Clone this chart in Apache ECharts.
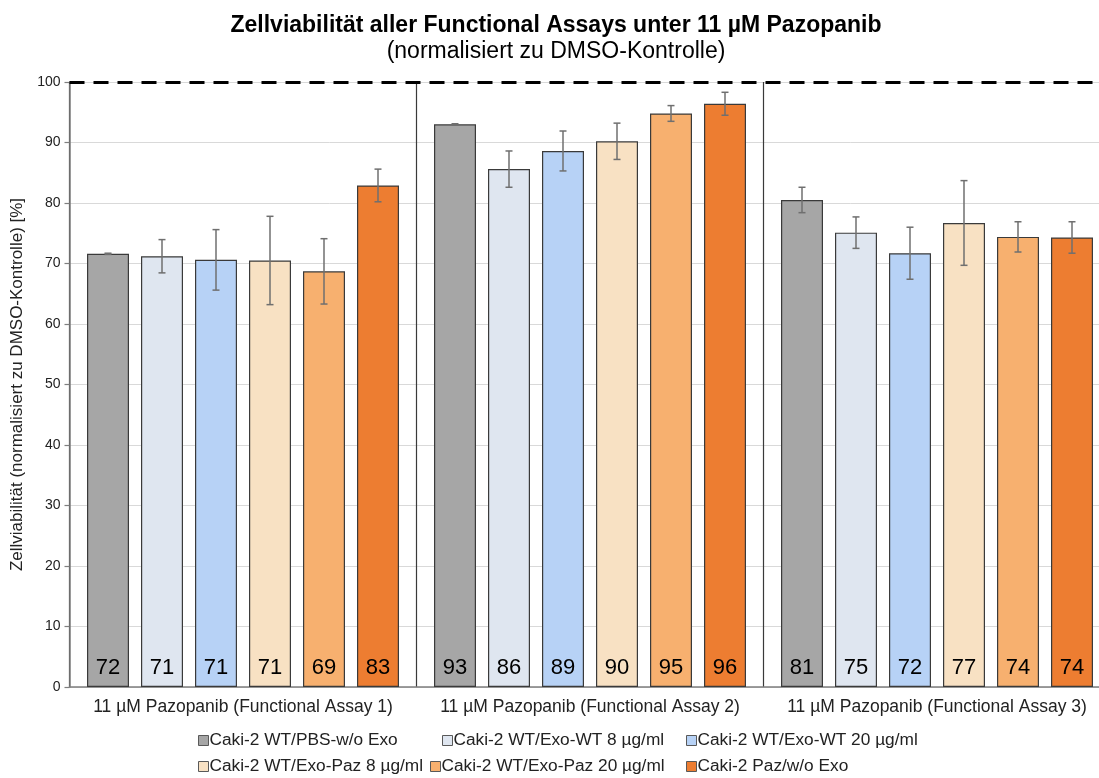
<!DOCTYPE html>
<html>
<head>
<meta charset="utf-8">
<script src="https://cdn.jsdelivr.net/npm/echarts@6/dist/echarts.min.js"></script>
<style>html,body{margin:0;padding:0;background:#fff;overflow:hidden;width:1099px;height:778px}#c{width:1130px;height:778px}</style>
</head>
<body>
<div id="c"></div>
<script>
const categories = [
  '11 µM Pazopanib (Functional Assay 1)',
  '11 µM Pazopanib (Functional Assay 2)',
  '11 µM Pazopanib (Functional Assay 3)'
];
const seriesNames = [
  'Caki-2 WT/PBS-w/o Exo',
  'Caki-2 WT/Exo-WT 8 µg/ml',
  'Caki-2 WT/Exo-WT 20 µg/ml',
  'Caki-2 WT/Exo-Paz 8 µg/ml',
  'Caki-2 WT/Exo-Paz 20 µg/ml',
  'Caki-2 Paz/w/o Exo'
];
const valsPBS      = [71.6, 93.0, 80.5];
const valsWT8      = [71.2, 85.6, 75.1];
const valsWT20     = [70.6, 88.6, 71.7];
const valsPaz8     = [70.5, 90.2, 76.7];
const valsPaz20    = [68.7, 94.8, 74.4];
const valsPazNoExo = [82.9, 96.4, 74.3];

const errPBS      = [0.1, 0.1, 2.1];
const errWT8      = [2.75, 3.0, 2.6];
const errWT20     = [5.0, 3.3, 4.3];
const errPaz8     = [7.3, 3.0, 7.0];
const errPaz20    = [5.4, 1.3, 2.5];
const errPazNoExo = [2.7, 1.9, 2.6];

const yTicks = [0, 10, 20, 30, 40, 50, 60, 70, 80, 90, 100];
const refLine = 100;

const allVals = [valsPBS, valsWT8, valsWT20, valsPaz8, valsPaz20, valsPazNoExo];
const allErrs = [errPBS, errWT8, errWT20, errPaz8, errPaz20, errPazNoExo];
const colors = ['#A6A6A6', '#DFE6F0', '#B7D2F6', '#F8E1C3', '#F7B06F', '#ED7D31'];

const FONT = 'Liberation Sans, Arial, sans-serif';
const BAR_W = 42, BAR_GAP = 12;

const series = seriesNames.map((n, i) => ({
  name: n,
  type: 'bar',
  data: allVals[i],
  barWidth: BAR_W,
  barGap: (BAR_GAP / BAR_W * 100) + '%',
  itemStyle: { color: colors[i], borderColor: '#3a3a3a', borderWidth: 1.2 },
  label: {
    show: true, position: 'insideBottom', distance: 8,
    formatter: p => Math.round(p.value),
    fontSize: 22, color: '#000', fontFamily: FONT
  },
  emphasis: { disabled: true },
  markLine: i === 0 ? {
    silent: true, symbol: 'none', label: { show: false },
    lineStyle: { color: '#000', width: 3, type: [15, 9] },
    data: [{ yAxis: refLine }]
  } : undefined
}));

const errData = [];
allVals.forEach((vals, s) => vals.forEach((v, c) => {
  errData.push([c, s, v - allErrs[s][c], v + allErrs[s][c]]);
}));

series.push({
  type: 'custom',
  z: 5,
  silent: true,
  data: errData,
  encode: { x: 0, y: [2, 3] },
  renderItem: function (params, api) {
    const c = api.value(0), s = api.value(1);
    const lo = api.coord([c, api.value(2)]);
    const hi = api.coord([c, api.value(3)]);
    const x = lo[0] + (s - 2.5) * (BAR_W + BAR_GAP);
    const st = { stroke: '#6f6f6f', lineWidth: 1.5 };
    const cap = 3.5;
    return {
      type: 'group',
      children: [
        { type: 'line', shape: { x1: x, y1: lo[1], x2: x, y2: hi[1] }, style: st },
        { type: 'line', shape: { x1: x - cap, y1: lo[1], x2: x + cap, y2: lo[1] }, style: st },
        { type: 'line', shape: { x1: x - cap, y1: hi[1], x2: x + cap, y2: hi[1] }, style: st }
      ]
    };
  }
});

const legendPos = [[198, 732], [442, 732], [686, 732], [198, 758], [430, 758], [686, 758]];
const legends = seriesNames.map((n, i) => ({
  data: [n],
  left: legendPos[i][0], top: legendPos[i][1],
  itemWidth: 10, itemHeight: 10,
  icon: 'rect',
  itemStyle: { borderColor: '#595959', borderWidth: 1 },
  textStyle: { fontSize: 17.3, color: '#222', fontFamily: FONT, padding: [0, 0, 0, -4] },
  selectedMode: false,
  padding: 0
}));

const chart = echarts.init(document.getElementById('c'), null, { renderer: 'canvas' });
chart.setOption({
  backgroundColor: '#fff',
  animation: false,
  title: {
    text: 'Zellviabilität aller Functional Assays unter 11 µM Pazopanib',
    subtext: '(normalisiert zu DMSO-Kontrolle)',
    left: 551, textAlign: 'center', top: 9, itemGap: 3,
    textStyle: { fontSize: 23, fontWeight: 'bold', color: '#000', fontFamily: FONT },
    subtextStyle: { fontSize: 23, color: '#000', fontFamily: FONT }
  },
  legend: legends,
  grid: { left: 69.5, right: 19.5, top: 82, bottom: 91, containLabel: false },
  xAxis: {
    type: 'category',
    data: categories,
    axisLine: { show: true, lineStyle: { color: '#7f7f7f', width: 1.5 } },
    axisTick: { show: false },
    axisLabel: { fontSize: 17.5, color: '#222', fontFamily: FONT, margin: 11, interval: 0 },
    splitLine: { show: true, interval: 0, lineStyle: { color: '#3a3a3a', width: 1.2 } }
  },
  yAxis: {
    type: 'value',
    min: yTicks[0], max: yTicks[yTicks.length - 1], interval: 10,
    name: 'Zellviabilität (normalisiert zu DMSO-Kontrolle) [%]',
    nameLocation: 'middle', nameGap: 43,
    nameTextStyle: { fontSize: 17, color: '#222', fontFamily: FONT },
    axisLine: { show: true, lineStyle: { color: '#7f7f7f', width: 1.5 } },
    axisTick: { show: true, length: 5, lineStyle: { color: '#7f7f7f', width: 1.2 } },
    axisLabel: { fontSize: 14, color: '#222', fontFamily: FONT, margin: 9 },
    splitLine: { show: true, lineStyle: { color: '#d9d9d9', width: 1 } }
  },
  series: series
});
</script>
</body>
</html>
